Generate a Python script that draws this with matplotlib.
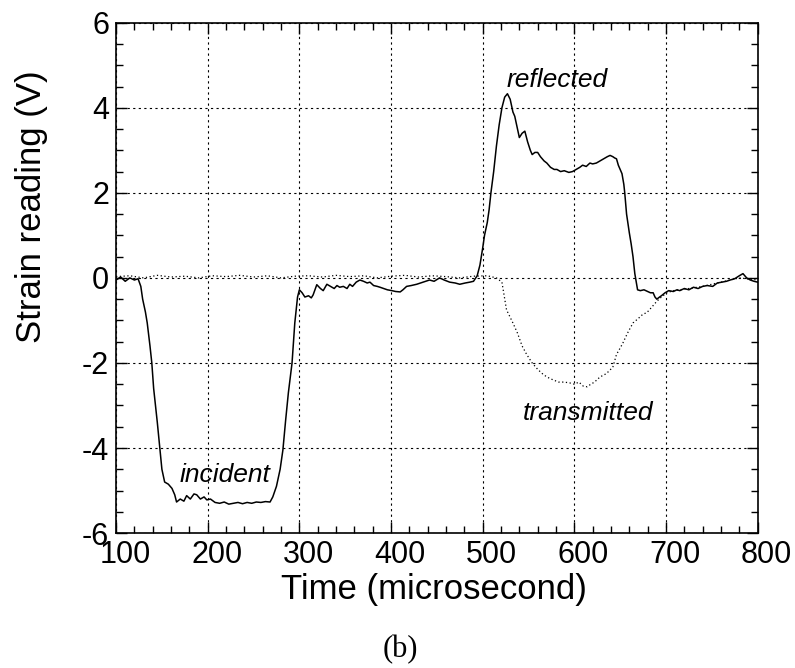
import matplotlib
matplotlib.use("Agg")
import matplotlib.pyplot as plt
from matplotlib.ticker import MultipleLocator
from matplotlib.transforms import ScaledTranslation

plt.rcParams['font.family'] = ['Liberation Sans', 'DejaVu Sans']
plt.rcParams['axes.unicode_minus'] = False   # plain hyphen like the original

# solid trace: incident pulse + reflected pulse
solid_t = [100, 105, 110, 115, 120, 124, 127, 129, 132, 134, 137, 139, 141, 143, 145, 148, 150, 153, 157, 161,
           164, 166, 170, 174, 177, 181, 185, 188, 192, 196, 199, 203, 208, 213, 218, 223, 228, 233, 238, 243,
           248, 253, 258, 263, 268, 271, 275, 279, 282, 285, 288, 292, 295, 298, 300, 303, 306, 310, 313, 315,
           319, 323, 326, 330, 334, 338, 341, 344, 348, 352, 355, 358, 362, 366, 370, 374, 377, 381, 385, 388,
           392, 396, 401, 405, 410, 413, 417, 422, 428, 435, 442, 447, 453, 458, 464, 470, 475, 481, 486, 490,
           494, 497, 500, 502, 505, 507, 509, 512, 515, 518, 521, 524, 527, 530, 533, 535, 538, 540, 543, 546,
           549, 552, 554, 557, 560, 563, 567, 570, 574, 578, 581, 585, 589, 594, 598, 602, 606, 609, 613, 617,
           620, 624, 628, 632, 636, 639, 642, 644, 646, 648, 650, 652, 654, 655, 657, 660, 662, 664, 666, 669,
           672, 676, 680, 683, 686, 688, 690, 693, 695, 699, 703, 708, 712, 715, 720, 725, 730, 735, 740, 745,
           751, 756, 761, 766, 770, 775, 780, 784, 788, 792, 796, 800]
solid_v = [-0.05, 0.02, -0.08, 0.0, -0.05, -0.02, -0.2, -0.5, -0.8, -1.06, -1.6, -2.0, -2.6, -3.0, -3.4, -4.05, -4.5, -4.8, -4.85, -4.95,
           -5.1, -5.27, -5.2, -5.25, -5.12, -5.2, -5.08, -5.1, -5.2, -5.15, -5.22, -5.2, -5.28, -5.3, -5.27, -5.32, -5.3, -5.28, -5.31, -5.28,
           -5.3, -5.27, -5.28, -5.26, -5.27, -5.15, -4.9, -4.5, -4.05, -3.35, -2.7, -2.0, -1.06, -0.45, -0.28, -0.35, -0.45, -0.42, -0.47, -0.4,
           -0.16, -0.25, -0.3, -0.15, -0.2, -0.25, -0.18, -0.22, -0.2, -0.25, -0.15, -0.2, -0.1, -0.05, -0.08, -0.12, -0.1, -0.18, -0.2, -0.22,
           -0.25, -0.28, -0.3, -0.32, -0.33, -0.28, -0.2, -0.18, -0.15, -0.1, -0.05, -0.08, 0.0, -0.05, -0.1, -0.12, -0.15, -0.12, -0.1, -0.08,
           0.05, 0.3, 0.7, 1.0, 1.3, 1.6, 2.0, 2.5, 3.1, 3.6, 4.0, 4.25, 4.33, 4.2, 3.9, 3.8, 3.5, 3.3, 3.4, 3.45,
           3.2, 3.0, 2.9, 2.95, 2.95, 2.85, 2.75, 2.7, 2.6, 2.55, 2.55, 2.5, 2.52, 2.48, 2.5, 2.55, 2.6, 2.65, 2.62, 2.7,
           2.68, 2.7, 2.75, 2.8, 2.85, 2.88, 2.85, 2.82, 2.8, 2.65, 2.55, 2.45, 2.2, 2.0, 1.5, 1.06, 0.8, 0.5, 0.1, -0.28,
           -0.3, -0.28, -0.32, -0.35, -0.35, -0.45, -0.5, -0.45, -0.42, -0.35, -0.3, -0.32, -0.28, -0.3, -0.25, -0.28, -0.22, -0.25, -0.2, -0.18,
           -0.2, -0.12, -0.1, -0.08, -0.05, -0.02, 0.05, 0.1, 0.0, -0.05, -0.08, -0.1]

# dotted trace: transmitted pulse
trans_t = [100, 115, 130, 145, 160, 175, 190, 205, 220, 235, 250, 265, 280, 295, 310, 325, 340, 355, 370, 385,
           400, 415, 430, 445, 460, 475, 490, 505, 515, 521, 526, 533, 538, 543, 548, 554, 560, 565, 570, 577,
           583, 589, 595, 600, 605, 610, 614, 618, 622, 628, 635, 642, 646, 650, 653, 658, 664, 670, 675, 679,
           684, 690, 695, 701, 708, 715, 725, 740, 760, 780, 800]
trans_v = [0.03, 0.05, 0.0, 0.06, 0.02, 0.04, 0.0, 0.05, 0.03, 0.06, 0.02, 0.05, 0.0, 0.04, 0.05, 0.02, 0.06, 0.03, 0.05, 0.0,
           0.04, 0.06, 0.02, 0.05, 0.03, 0.0, 0.04, 0.05, 0.0, -0.1, -0.75, -1.06, -1.3, -1.6, -1.8, -2.0, -2.15, -2.25, -2.33, -2.4,
           -2.45, -2.45, -2.47, -2.5, -2.45, -2.55, -2.56, -2.5, -2.45, -2.33, -2.25, -2.1, -1.8, -1.65, -1.53, -1.3, -1.06, -0.95, -0.85, -0.82,
           -0.7, -0.55, -0.45, -0.35, -0.3, -0.28, -0.25, -0.2, -0.1, 0.0, -0.05]

labels = ["reflected", "transmitted", "incident"]
label_x = [526, 544, 169]
label_y = [4.49, -3.34, -4.8]

fig = plt.figure(figsize=(7.95, 6.68), dpi=100)
ax = fig.add_axes([0.146, 0.202, 0.807, 0.764])

ax.plot(solid_t, solid_v, color="black", lw=1.1)
ax.plot(trans_t, trans_v, color="black", lw=0.9, linestyle=(0, (1, 2)))

for txt, tx, ty in zip(labels, label_x, label_y):
    ax.text(tx, ty, txt, fontsize=19, style="italic", ha="left", va="baseline")

ax.set_xlim(100, 800)
ax.set_ylim(-6, 6)
ax.xaxis.set_major_locator(MultipleLocator(100))
ax.xaxis.set_minor_locator(MultipleLocator(20))
ax.yaxis.set_major_locator(MultipleLocator(2))
ax.yaxis.set_minor_locator(MultipleLocator(0.5))
ax.grid(True, which="major", color="black", lw=0.8, linestyle=(0, (2, 3)))

ax.tick_params(which="both", direction="in", top=True, right=True, labelsize=22, pad=5, width=1)
ax.tick_params(which="major", length=8)
ax.tick_params(which="minor", length=5)
for sp in ax.spines.values():
    sp.set_linewidth(1.2)

ax.set_xlabel("Time (microsecond)", fontsize=25)
ax.set_ylabel("Strain reading (V)", fontsize=25)
ax.xaxis.set_label_coords(0.495, -0.078)
ax.yaxis.set_label_coords(-0.106, 0.64)

# x tick labels sit a little right of their ticks in the original
shift = ScaledTranslation(9 / 100, 0, fig.dpi_scale_trans)
for lbl in ax.get_xticklabels():
    lbl.set_transform(lbl.get_transform() + shift)

fig.text(0.504, 0.006, "(b)", fontsize=22, family="Liberation Serif", ha="center", va="bottom")

fig.savefig("out.png", dpi=100)
